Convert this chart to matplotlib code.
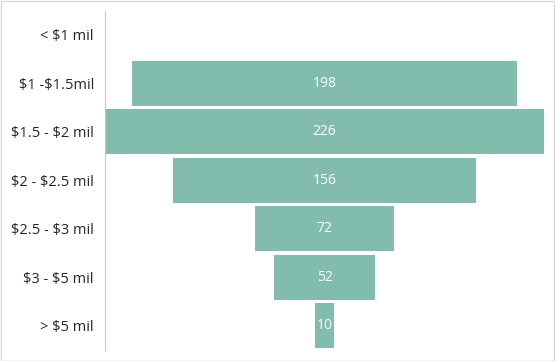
import matplotlib
matplotlib.use("Agg")
import matplotlib.pyplot as plt
import numpy as np
from matplotlib.patches import Rectangle

categories = ["< $1 mil", "$1 -$1.5mil", "$1.5 - $2 mil", "$2 - $2.5 mil",
              "$2.5 - $3 mil", "$3 - $5 mil", "> $5 mil"]
values = [np.nan, 198, 226, 156, 72, 52, 10]

plt.rcParams['font.family'] = ['Open Sans', 'DejaVu Sans']

W, H = 555, 361
fig = plt.figure(figsize=(W / 100, H / 100), dpi=100)
ax = fig.add_axes([105 / W, 1 - 350 / H, (544 - 105) / W, (350 - 10.5) / H])

color = "#82bcac"
y = np.arange(len(categories))
vals = np.array(values, dtype=float)
ax.barh(y, np.nan_to_num(vals), left=-np.nan_to_num(vals) / 2, height=0.93, color=color)
for yi, v in zip(y, vals):
    if not np.isnan(v):
        ax.text(0, yi, f"{int(v)}", ha="center", va="center", color="white", fontsize=10)

ax.set_xlim(-113, 113)
ax.set_ylim(len(categories) - 0.5, -0.5)
ax.set_yticks(y)
ax.set_yticklabels([c.replace("$", r"\$") for c in categories], fontsize=10.5, color="#262626")
ax.tick_params(axis="y", length=0, pad=8)
ax.set_xticks([])
for s in ["top", "right", "bottom"]:
    ax.spines[s].set_visible(False)
ax.spines["left"].set_color("#c8c8c8")
ax.spines["left"].set_linewidth(0.8)

fig.patches.append(Rectangle((0.5 / W, 0.5 / H), 1 - 1.5 / W, 1 - 1.5 / H, transform=fig.transFigure,
                             fill=False, edgecolor="#d9d9d9", linewidth=1))

fig.savefig("out.png", dpi=100)
